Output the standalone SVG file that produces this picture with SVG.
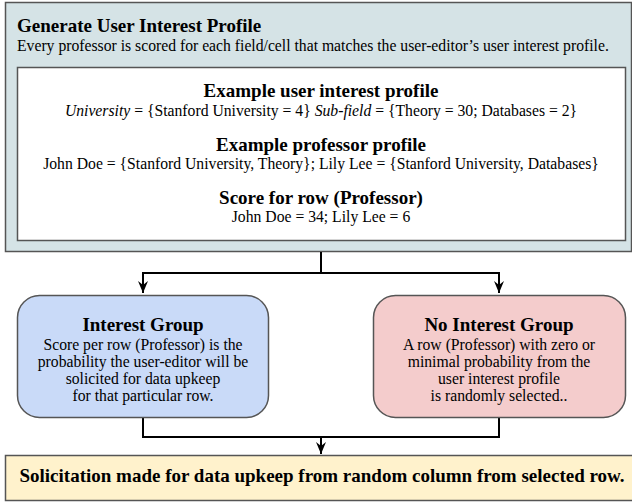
<svg xmlns="http://www.w3.org/2000/svg" width="632" height="503" viewBox="0 0 632 503">
<style>
text{font-family:"Liberation Serif","Times New Roman",serif;fill:#000}
.h{font-weight:bold;font-size:19px}
.b{font-size:15.7px}
.c{text-anchor:middle}
.box{stroke:#555;stroke-width:1.5}
.conn{fill:none;stroke:#000;stroke-width:2}
</style>
<defs>
<marker id="arr" markerUnits="userSpaceOnUse" markerWidth="12" markerHeight="14" viewBox="0 0 12 14" refX="6" refY="13" orient="0">
<path d="M1,1 L6,5 L11,1 L6,13 z" fill="#000"/>
</marker>
</defs>
<g id="profile">
<rect class="box" x="5.5" y="2.5" width="626" height="249" fill="#d5e3e6"/>
<text class="h" x="17" y="32">Generate User Interest Profile</text>
<text class="b" x="17" y="51">Every professor is scored for each field/cell that matches the user-editor’s user interest profile.</text>
</g>
<g id="examples">
<rect class="box" x="17.5" y="67.5" width="608" height="173" fill="#fff"/>
<text class="h c" x="321" y="97">Example user interest profile</text>
<text class="b c" x="321" y="116"><tspan font-style="italic">University</tspan> = {Stanford University = 4} <tspan font-style="italic">Sub-field</tspan> = {Theory = 30; Databases = 2}</text>
<text class="h c" x="321" y="151">Example professor profile</text>
<text class="b c" x="321" y="169">John Doe = {Stanford University, Theory}; Lily Lee = {Stanford University, Databases}</text>
<text class="h c" x="321" y="204">Score for row (Professor)</text>
<text class="b c" x="321" y="222">John Doe = 34; Lily Lee = 6</text>
</g>
<g id="connectors">
<path class="conn" d="M321,252 V273 H143 V293" marker-end="url(#arr)"/>
<path class="conn" d="M321,273 H499 V293" marker-end="url(#arr)"/>
<path class="conn" d="M143,418 V437 H499 V418"/>
<path class="conn" d="M321,437 V454" marker-end="url(#arr)"/>
</g>
<g id="interest">
<rect class="box" x="17.5" y="295.5" width="251" height="122" rx="22" fill="#c9daf8"/>
<text class="h c" x="143" y="331">Interest Group</text>
<text class="b c" x="143" y="350">Score per row (Professor) is the</text>
<text class="b c" x="143" y="367">probability the user-editor will be</text>
<text class="b c" x="143" y="384">solicited for data upkeep</text>
<text class="b c" x="143" y="401">for that particular row.</text>
</g>
<g id="nointerest">
<rect class="box" x="373.5" y="295.5" width="252" height="122" rx="22" fill="#f4cccc"/>
<text class="h c" x="499" y="331">No Interest Group</text>
<text class="b c" x="499" y="350">A row (Professor) with zero or</text>
<text class="b c" x="499" y="367">minimal probability from the</text>
<text class="b c" x="499" y="384">user interest profile</text>
<text class="b c" x="499" y="401">is randomly selected..</text>
</g>
<g id="solicitation">
<rect class="box" x="5.5" y="455.5" width="628" height="45" fill="#fff2cc"/>
<text class="h c" x="322" y="482">Solicitation made for data upkeep from random column from selected row.</text>
</g>
</svg>
